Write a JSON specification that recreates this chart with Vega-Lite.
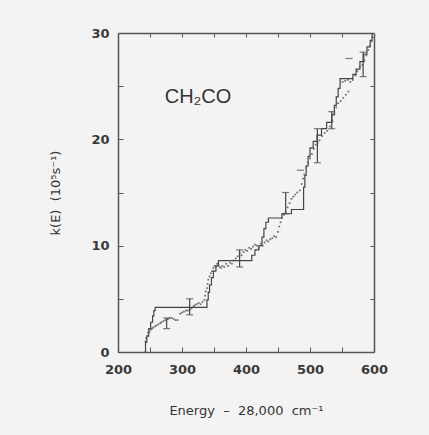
{
  "$schema": "https://vega.github.io/schema/vega-lite/v6.json",
  "autosize": "none",
  "padding": {"left": 118, "top": 33, "right": 55, "bottom": 83},
  "width": 256,
  "height": 319,
  "background": "#f3f3f3",
  "config": {
    "view": {"stroke": null},
    "axis": {
      "grid": false,
      "domainColor": "#555555",
      "domainWidth": 1.5,
      "tickColor": "#555555",
      "tickWidth": 1,
      "labelFlush": false,
      "labelOverlap": false,
      "labelFont": "DejaVu Sans",
      "labelFontSize": 13,
      "labelFontWeight": "bold",
      "labelColor": "#3a3a3a",
      "titleFont": "DejaVu Sans",
      "titleFontSize": 13,
      "titleFontWeight": "normal",
      "titleColor": "#333333"
    }
  },
  "datasets": {
    "step": [
      {"x": 241, "y": 0}, {"x": 243, "y": 0.9}, {"x": 245, "y": 1.5}, {"x": 248, "y": 2.2},
      {"x": 251, "y": 2.8}, {"x": 254, "y": 3.4}, {"x": 256, "y": 3.9}, {"x": 258, "y": 4.2},
      {"x": 339, "y": 4.9}, {"x": 341, "y": 5.6}, {"x": 343, "y": 6.3}, {"x": 346, "y": 7.0},
      {"x": 349, "y": 7.6}, {"x": 353, "y": 8.1}, {"x": 357, "y": 8.6}, {"x": 409, "y": 9.1},
      {"x": 414, "y": 9.6}, {"x": 420, "y": 10.0}, {"x": 425, "y": 10.8}, {"x": 428, "y": 11.6},
      {"x": 431, "y": 12.2}, {"x": 435, "y": 12.6}, {"x": 456, "y": 13.0}, {"x": 471, "y": 13.4},
      {"x": 490, "y": 15.5}, {"x": 492, "y": 16.6}, {"x": 494, "y": 17.5}, {"x": 497, "y": 18.4},
      {"x": 500, "y": 19.2}, {"x": 505, "y": 19.8}, {"x": 511, "y": 20.4}, {"x": 518, "y": 21.0},
      {"x": 526, "y": 21.6}, {"x": 534, "y": 22.3}, {"x": 538, "y": 23.2}, {"x": 541, "y": 24.0},
      {"x": 544, "y": 24.8}, {"x": 547, "y": 25.7}, {"x": 567, "y": 26.1}, {"x": 572, "y": 26.6},
      {"x": 578, "y": 27.3}, {"x": 584, "y": 28.0}, {"x": 589, "y": 28.7}, {"x": 594, "y": 29.3},
      {"x": 597, "y": 30}
    ],
    "dots": [
      {"x": 243, "y": 1.0}, {"x": 244, "y": 1.3}, {"x": 246, "y": 1.5}, {"x": 247, "y": 1.8},
      {"x": 249, "y": 1.9}, {"x": 251, "y": 2.1}, {"x": 253, "y": 2.2}, {"x": 255, "y": 2.3},
      {"x": 258, "y": 2.4}, {"x": 260, "y": 2.5}, {"x": 263, "y": 2.6}, {"x": 266, "y": 2.7},
      {"x": 268, "y": 2.8}, {"x": 271, "y": 2.9}, {"x": 274, "y": 3.0}, {"x": 278, "y": 3.1},
      {"x": 281, "y": 3.2}, {"x": 284, "y": 3.2}, {"x": 287, "y": 3.1}, {"x": 290, "y": 3.0},
      {"x": 293, "y": 3.0}, {"x": 297, "y": 3.6}, {"x": 300, "y": 3.7}, {"x": 303, "y": 3.8},
      {"x": 306, "y": 3.9}, {"x": 309, "y": 3.9}, {"x": 312, "y": 4.0}, {"x": 315, "y": 4.1},
      {"x": 318, "y": 4.3}, {"x": 320, "y": 4.4}, {"x": 323, "y": 4.5}, {"x": 326, "y": 4.6},
      {"x": 329, "y": 4.5}, {"x": 332, "y": 4.7}, {"x": 335, "y": 4.9}, {"x": 336, "y": 5.3},
      {"x": 337, "y": 5.7}, {"x": 339, "y": 6.0}, {"x": 340, "y": 6.4}, {"x": 341, "y": 6.8},
      {"x": 343, "y": 7.1}, {"x": 345, "y": 7.4}, {"x": 347, "y": 7.6}, {"x": 349, "y": 7.9},
      {"x": 351, "y": 8.1}, {"x": 353, "y": 8.0}, {"x": 355, "y": 8.3}, {"x": 357, "y": 8.2},
      {"x": 359, "y": 8.0}, {"x": 361, "y": 7.9}, {"x": 363, "y": 8.1}, {"x": 366, "y": 8.0},
      {"x": 369, "y": 8.3}, {"x": 372, "y": 8.1}, {"x": 375, "y": 8.4}, {"x": 378, "y": 8.3},
      {"x": 381, "y": 8.6}, {"x": 384, "y": 8.8}, {"x": 387, "y": 9.0}, {"x": 390, "y": 9.3},
      {"x": 393, "y": 9.1}, {"x": 396, "y": 9.4}, {"x": 399, "y": 9.6}, {"x": 402, "y": 9.5},
      {"x": 405, "y": 9.8}, {"x": 408, "y": 9.7}, {"x": 411, "y": 9.9}, {"x": 414, "y": 10.1},
      {"x": 417, "y": 10.0}, {"x": 420, "y": 9.8}, {"x": 423, "y": 10.2}, {"x": 426, "y": 10.0},
      {"x": 429, "y": 10.3}, {"x": 432, "y": 10.5}, {"x": 435, "y": 10.4}, {"x": 438, "y": 10.6},
      {"x": 441, "y": 10.7}, {"x": 444, "y": 10.9}, {"x": 447, "y": 10.8}, {"x": 450, "y": 11.3},
      {"x": 452, "y": 11.8}, {"x": 454, "y": 12.2}, {"x": 456, "y": 12.6}, {"x": 459, "y": 12.9},
      {"x": 462, "y": 13.2}, {"x": 465, "y": 13.6}, {"x": 468, "y": 14.0}, {"x": 471, "y": 14.4},
      {"x": 474, "y": 14.6}, {"x": 477, "y": 14.8}, {"x": 480, "y": 15.0}, {"x": 484, "y": 15.2},
      {"x": 487, "y": 15.8}, {"x": 489, "y": 16.3}, {"x": 491, "y": 16.7}, {"x": 494, "y": 17.3},
      {"x": 497, "y": 17.8}, {"x": 500, "y": 18.2}, {"x": 503, "y": 18.6}, {"x": 506, "y": 19.1},
      {"x": 509, "y": 19.5}, {"x": 512, "y": 19.7}, {"x": 515, "y": 19.9}, {"x": 519, "y": 20.3},
      {"x": 523, "y": 20.6}, {"x": 527, "y": 20.8}, {"x": 531, "y": 21.2}, {"x": 535, "y": 21.7},
      {"x": 538, "y": 22.4}, {"x": 541, "y": 23.0}, {"x": 544, "y": 23.4}, {"x": 548, "y": 23.6},
      {"x": 552, "y": 23.9}, {"x": 556, "y": 24.2}, {"x": 560, "y": 24.5}, {"x": 551, "y": 25.4},
      {"x": 555, "y": 25.5}, {"x": 559, "y": 25.6}, {"x": 563, "y": 25.4}, {"x": 567, "y": 25.6},
      {"x": 571, "y": 26.0}, {"x": 574, "y": 26.4}, {"x": 578, "y": 26.8}, {"x": 582, "y": 27.0},
      {"x": 585, "y": 27.4}, {"x": 588, "y": 27.9}, {"x": 591, "y": 28.4}, {"x": 594, "y": 28.8},
      {"x": 596, "y": 29.2}, {"x": 598, "y": 29.6}
    ],
    "errors": [
      {"x": 276, "lo": 2.2, "hi": 3.2},
      {"x": 312, "lo": 3.5, "hi": 5.0},
      {"x": 390, "lo": 8.0, "hi": 9.6},
      {"x": 462, "lo": 13.0, "hi": 15.0},
      {"x": 511.5, "lo": 17.8, "hi": 21.0},
      {"x": 534, "lo": 21.0, "hi": 22.6},
      {"x": 583, "lo": 25.9, "hi": 28.2}
    ],
    "dashes": [
      {"x": 485, "y": 17.1},
      {"x": 561, "y": 27.6}
    ],
    "label": [
      {"x": 273, "y": 23.4, "text": "CH₂CO"}
    ]
  },
  "layer": [
    {
      "data": {"name": "step"},
      "mark": {"type": "line", "interpolate": "step-after", "color": "#444444", "strokeWidth": 1.2},
      "encoding": {
        "x": {
          "field": "x", "type": "quantitative",
          "scale": {"domain": [200, 600], "nice": false, "zero": false},
          "axis": {
            "orient": "bottom",
            "values": [200, 250, 300, 350, 400, 450, 500, 550, 600],
            "labelExpr": "datum.value % 100 == 0 ? datum.label : ''",
            "tickSize": -5,
            "labelPadding": 16,
            "title": "Energy\u00a0\u00a0–\u00a0\u00a028,000\u00a0\u00a0cm⁻¹",
            "titlePadding": 28
          }
        },
        "y": {
          "field": "y", "type": "quantitative",
          "scale": {"domain": [0, 30], "nice": false},
          "axis": {
            "orient": "left",
            "values": [0, 5, 10, 15, 20, 25, 30],
            "labelExpr": "datum.value % 10 == 0 ? datum.label : ''",
            "tickSize": -5,
            "labelPadding": 14,
            "title": "k(E)\u00a0\u00a0(10⁵s⁻¹)",
            "titlePadding": 28
          }
        }
      }
    },
    {
      "data": {"name": "dots"},
      "mark": {"type": "point", "shape": "square", "filled": true, "size": 3, "color": "#555555", "opacity": 0.85},
      "encoding": {
        "x": {"field": "x", "type": "quantitative", "axis": null},
        "y": {"field": "y", "type": "quantitative", "axis": null}
      }
    },
    {
      "data": {"name": "errors"},
      "mark": {"type": "rule", "color": "#444444", "strokeWidth": 1.2},
      "encoding": {
        "x": {"field": "x", "type": "quantitative", "axis": null},
        "y": {"field": "lo", "type": "quantitative", "axis": null},
        "y2": {"field": "hi"}
      }
    },
    {
      "data": {"name": "errors"},
      "mark": {"type": "tick", "orient": "horizontal", "color": "#444444", "thickness": 1.2, "size": 7},
      "encoding": {
        "x": {"field": "x", "type": "quantitative", "axis": null},
        "y": {"field": "lo", "type": "quantitative", "axis": null}
      }
    },
    {
      "data": {"name": "errors"},
      "mark": {"type": "tick", "orient": "horizontal", "color": "#444444", "thickness": 1.2, "size": 7},
      "encoding": {
        "x": {"field": "x", "type": "quantitative", "axis": null},
        "y": {"field": "hi", "type": "quantitative", "axis": null}
      }
    },
    {
      "data": {"name": "dashes"},
      "mark": {"type": "tick", "orient": "horizontal", "color": "#444444", "thickness": 1.2, "size": 7},
      "encoding": {
        "x": {
          "field": "x", "type": "quantitative",
          "axis": {"orient": "top", "values": [250, 300, 350, 400, 450, 500, 550], "labels": false, "tickSize": -4, "title": null}
        },
        "y": {
          "field": "y", "type": "quantitative",
          "axis": {"orient": "right", "values": [5, 10, 15, 20, 25], "labels": false, "tickSize": -4, "title": null}
        }
      }
    },
    {
      "data": {"name": "label"},
      "mark": {"type": "text", "align": "left", "baseline": "alphabetic", "font": "Liberation Sans", "fontSize": 20, "color": "#333333"},
      "encoding": {
        "x": {"field": "x", "type": "quantitative", "axis": null},
        "y": {"field": "y", "type": "quantitative", "axis": null},
        "text": {"field": "text"}
      }
    }
  ],
  "resolve": {"axis": {"x": "independent", "y": "independent"}}
}
